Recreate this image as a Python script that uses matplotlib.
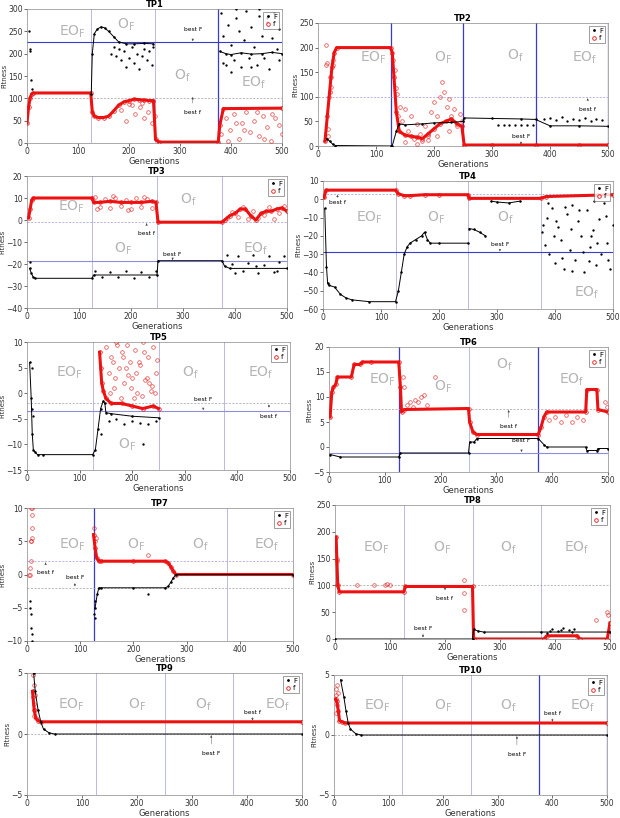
import matplotlib

matplotlib.use("Agg")
import matplotlib.pyplot as plt  # noqa: E402
from matplotlib.lines import Line2D  # noqa: E402

# ---- data (generation, fitness) ----
# TP1
tp1_F_x = [126, 128, 132, 138, 145, 152, 160, 170, 180, 195, 210, 230, 248]
tp1_F_y = [110, 200, 245, 255, 260, 258, 250, 238, 226, 222, 222, 223, 222]
tp1_F2_x = [378, 390, 400, 420, 440, 460, 480, 500]
tp1_F2_y = [205, 200, 198, 202, 199, 200, 203, 200]
tp1_Fc_x = [3, 5, 6, 8, 9, 165, 170, 175, 180, 185, 190, 195, 200, 205, 210, 215, 220, 225, 230,
            235, 240, 245, 248, 380, 385, 390, 395, 400, 405, 410, 415, 420, 425, 430, 435, 440,
            445, 450, 455, 460, 465, 470, 475, 480, 485, 490, 495, 385, 410, 440, 470, 495, 400, 455]
tp1_Fc_y = [250, 205, 210, 140, 120, 200, 215, 195, 210, 185, 205, 170, 190, 215, 180, 200, 165,
            195, 210, 185, 205, 175, 215, 290, 240, 175, 265, 220, 185, 280, 250, 170, 230, 295,
            190, 260, 215, 175, 285, 240, 190, 270, 165, 235, 290, 210, 255, 180, 300, 170, 280, 185, 160, 300]
tp1_f_x = [0, 3, 6, 9, 12, 125, 128, 132, 140, 150, 160, 170, 180, 190, 200, 210, 220, 230, 240,
           248, 252, 258, 375, 378, 385, 500]
tp1_f_y = [45, 80, 100, 110, 112, 112, 70, 60, 57, 57, 60, 72, 85, 92, 95, 98, 97, 96, 95, 95, 8,
           2, 2, 40, 77, 78]
tp1_fc_x = [185, 195, 205, 212, 222, 230, 238, 245, 250, 200, 225, 380, 390, 398, 405, 415, 422,
            430, 438, 446, 455, 462, 470, 478, 486, 494, 500, 395, 425, 450, 480, 410, 465]
tp1_fc_y = [75, 50, 85, 65, 80, 55, 70, 45, 60, 88, 90, 20, 55, 30, 65, 10, 45, 70, 25, 50, 15,
            60, 35, 5, 55, 40, 20, 5, 30, 70, 65, 45, 10]

# TP2
tp2_f_x = [12, 16, 20, 24, 28, 32, 125, 128, 131, 135, 140, 150, 160, 170, 180, 190, 200, 210,
           220, 230, 240, 248, 252, 300, 375, 450, 500]
tp2_f_y = [10, 60, 110, 160, 190, 200, 200, 190, 140, 70, 30, 22, 20, 18, 15, 25, 35, 45, 50, 55,
           45, 40, 2, 2, 2, 2, 2]
tp2_fc_x = [13, 14, 15, 17, 18, 19, 21, 22, 23, 25, 26, 130, 132, 134, 136, 138, 142, 145, 150,
            155, 160, 165, 170, 175, 180, 185, 190, 195, 200, 205, 210, 214, 218, 222, 226, 230,
            235, 240, 245, 248, 150, 170, 190, 205, 225]
tp2_fc_y = [165, 205, 168, 35, 20, 100, 140, 120, 140, 165, 175, 175, 155, 118, 105, 60, 80, 50,
            75, 30, 60, 15, 45, 25, 10, 40, 20, 70, 90, 60, 100, 130, 110, 80, 95, 60, 75, 40, 65,
            50, 8, 5, 12, 20, 30]
tp2_F_x = [15, 20, 25, 30, 125, 128, 135, 140, 150, 180, 200, 230, 250, 252, 300, 350, 375, 400,
           450, 500]
tp2_F_y = [15, 10, 4, 1, 0, 0, 30, 45, 43, 45, 47, 48, 50, 57, 56, 55, 54, 41, 41, 40]
tp2_Fc_x = [310, 320, 330, 340, 350, 360, 370, 390, 400, 410, 420, 430, 440, 450, 460, 470, 480,
            490]
tp2_Fc_y = [42, 42, 42, 42, 42, 42, 42, 55, 57, 52, 58, 50, 55, 53, 57, 50, 55, 52]

# TP3
tp3_f_x = [3, 6, 9, 12, 125, 128, 140, 160, 180, 200, 220, 240, 248, 252, 375, 380, 390, 400, 410,
           420, 430, 440, 450, 460, 470, 480, 490, 500]
tp3_f_y = [1, 5, 9, 10, 10, 8, 8, 8.5, 8, 8, 8, 8.5, 8, -1, -1, 0, 2, 3, 5, 5, 2, 0, 3, 4, 4, 5,
           5.5, 4]
tp3_fc_x = [130, 140, 150, 160, 170, 180, 190, 200, 210, 220, 230, 240, 135, 165, 195, 225, 385,
            395, 405, 415, 425, 435, 445, 455, 465, 475, 485, 495]
tp3_fc_y = [10.5, 6, 9.5, 5.5, 10, 6.5, 9, 5, 10, 6, 9.5, 5.5, 5, 11, 4.5, 10.5, 1, 3.5, 1.5, 6,
            0.5, 4, 1, 2.5, 6, 0.5, 3, 6.5]
tp3_F_x = [5, 8, 12, 15, 125, 128, 250, 252, 375, 380, 390, 500]
tp3_F_y = [-22, -24, -26, -26.5, -26.5, -25, -25, -18.5, -18.5, -21, -22, -22]
tp3_Fc_x = [6, 130, 145, 160, 175, 190, 205, 220, 235, 248, 385, 395, 405, 415, 425, 435, 445,
            455, 465, 475, 485, 495, 400, 440, 480]
tp3_Fc_y = [-19, -23, -26, -23.5, -26, -23, -26.2, -23.5, -25.8, -23, -16, -20, -16.5, -23,
            -19.5, -16, -24, -20.5, -16.5, -23.5, -19, -16.5, -24, -21, -23]

# TP4
tp4_f_x = [2, 5, 125, 130, 140, 150, 175, 200, 250, 252, 375, 385, 500]
tp4_f_y = [1, 5, 5, 3, 2, 2, 2.5, 2.5, 2.5, 0.5, 0.5, 1.5, 2.5]
tp4_F_x = [3, 6, 8, 10, 20, 30, 40, 50, 80, 125, 130, 135, 140, 145, 150, 160, 170, 175, 180,
           185, 200, 250]
tp4_F_y = [-5, -37, -46, -47, -48, -52, -54, -55, -56, -56, -50, -40, -30, -26, -24, -22, -20,
           -18, -22, -24, -24, -24]
tp4_F2_x = [252, 260, 270, 280]
tp4_F2_y = [-16, -16.5, -18, -20]
tp4_F3_x = [290, 300, 320, 340]
tp4_F3_y = [-1, -1.5, -2, -1]
tp4_Fc_x = [378, 382, 386, 390, 395, 400, 405, 410, 415, 420, 425, 430, 435, 440, 445, 450, 455,
            460, 465, 470, 475, 480, 485, 490, 495, 500, 388, 398, 412, 428, 442, 458, 472, 488,
            402, 418, 448, 468, 492, 380, 430, 462]
tp4_Fc_y = [-18, -25, -10, -30, -5, -35, -15, -22, -38, -8, -28, -3, -33, -12, -20, -40, -6,
            -26, -17, -36, -11, -30, -2, -24, -38, -14, -2, -20, -32, -16, -6, -34, -24, -9, -12,
            -4, -29, -1, -33, -14, -39, -20]

# TP5
tp5_F_x = [5, 8, 10, 12, 15, 20, 30, 125, 130, 135, 140, 145, 148, 150, 160, 200, 250]
tp5_F_y = [6, -1, -8, -11, -11.5, -12, -12, -12, -11, -7, -3, -1.5, -2, -3.8, -4, -4.5, -4.8]
tp5_Fc_x = [10, 9, 11, 140, 155, 170, 185, 200, 215, 230, 245, 220]
tp5_Fc_y = [5, -3, -4.5, -8, -5.5, -5, -6, -5.5, -5.8, -6, -5.5, -10]
tp5_f_x = [138, 140, 142, 145, 150, 160, 180, 200, 220, 240, 250]
tp5_f_y = [8, 5, 2, 0.5, -1, -2, -2, -2.5, -3, -2.5, -3]
tp5_fc_x = [150, 155, 160, 165, 170, 175, 180, 185, 190, 195, 200, 205, 210, 215, 220, 225, 230,
            235, 240, 245, 248, 158, 168, 178, 188, 198, 208, 218, 228, 238, 163, 183, 203, 223,
            243, 172, 192, 212, 232]
tp5_fc_y = [9, 4, 7, 1, 10, 5, 8, 2, 9.5, 6, 3, 8.5, 0, 5.5, 10, 2.5, 7, 0.5, 9, 4, 6.5, 0,
            3, -1, 5, 1, 4, -0.5, 3, 1.5, 6, 7, -1, 8, 0, 9.5, 3.5, 6, 2]

# TP6
tp6_f_x = [2, 5, 8, 12, 15, 40, 45, 55, 60, 75, 125, 128, 130, 135, 250, 252, 258, 265, 375, 380,
           385, 390, 460, 462, 480, 482, 500]
tp6_f_y = [6, 11, 12, 12.5, 14, 14, 16.5, 16.5, 17, 17, 17, 12, 7, 7.5, 7.7, 5, 3, 2.5, 2.5, 4, 6,
           7, 7, 11.5, 11.5, 7.5, 7]
tp6_fc_x = [132, 135, 140, 145, 150, 155, 160, 165, 170, 175, 190, 395, 405, 415, 425, 435, 445,
            455, 495, 498]
tp6_fc_y = [14, 12, 8.5, 9, 8, 9.5, 9, 10, 10.5, 8.5, 14, 5.5, 6, 5, 6.5, 5, 6, 5.5, 9, 8]
tp6_F_x = [2, 20, 125, 128, 250, 252, 260, 265, 375, 385, 390, 460, 462, 480, 482, 500]
tp6_F_y = [-1.5, -2, -2, -1.2, -1.2, 1, 1, 1.7, 1.7, 0.5, 0, 0, -0.7, -0.7, -0.3, -0.3]

# TP7
tp7_f_x = [125, 128, 131, 135, 140, 200, 260, 265, 270, 275, 280, 500]
tp7_f_y = [6, 4, 2.5, 2, 2, 2, 2, 1.8, 1.2, 0.5, 0, 0]
tp7_fc_x = [3, 5, 6, 7, 8, 9, 8, 9, 10, 7, 10, 126, 127, 129, 228]
tp7_fc_y = [0, 0, 1, 5, 5, 5.5, 10, 9, 7, 2, 10, 7, 5, 5.5, 3]
tp7_F_x = [128, 132, 135, 140, 200, 260, 265, 270, 275, 280, 500]
tp7_F_y = [-5, -3, -2, -2, -2, -2, -1.8, -1.2, -0.5, 0, 0]
tp7_Fc_x = [5, 6, 7, 8, 9, 10, 125, 127, 128, 228]
tp7_Fc_y = [-5, -4, -6, -8, -9, -10, -6, -4, -6.5, -3]

# TP8
tp8_f_x = [2, 5, 8, 125, 128, 250, 252, 380, 385, 440, 445, 495, 500]
tp8_f_y = [190, 100, 88, 88, 98, 98, 0, 0, 6, 6, 0, 0, 30]
tp8_fc_x = [3, 4, 3, 40, 70, 90, 95, 100, 235, 235, 235, 475, 495, 497]
tp8_fc_y = [150, 145, 100, 100, 100, 100, 102, 101, 110, 85, 55, 35, 50, 45]
tp8_F_x = [0, 250, 252, 260, 270, 375, 500]
tp8_F_y = [0, 0, 18, 15, 13, 13, 13]
tp8_Fc_x = [385, 395, 405, 415, 425, 435, 390, 410, 430]
tp8_Fc_y = [12, 18, 14, 20, 16, 19, 15, 17, 13]

# TP9
tp9_f_x = [10, 13, 16, 20, 25, 500]
tp9_f_y = [3.5, 2, 1.3, 1.1, 1, 1]
tp9_fc_x = [10, 11, 12, 13, 14, 12, 15]
tp9_fc_y = [4.8, 3, 2.5, 4, 3.2, 1.5, 2]
tp9_F_x = [12, 15, 20, 25, 30, 40, 50, 500]
tp9_F_y = [5, 3.5, 2, 1, 0.4, 0.1, 0, 0]

# TP10
tp10_f_x = [3, 5, 8, 10, 15, 20, 500]
tp10_f_y = [3, 2.8, 2, 1.2, 1.1, 1, 1]
tp10_fc_x = [3, 4, 5, 6, 4, 7]
tp10_fc_y = [3.8, 3.3, 4.2, 2.5, 1.8, 3.5]
tp10_F_x = [12, 18, 22, 26, 30, 40, 50, 500]
tp10_F_y = [4.6, 3.2, 2, 1, 0.5, 0.1, 0, 0]

region_names = [r"EO$_\mathrm{F}$", r"O$_\mathrm{F}$", r"O$_\mathrm{f}$", r"EO$_\mathrm{f}$"]
gen_ticks = [0, 100, 200, 300, 400, 500]

# ---- styling ----
BLUE = "#3a3acc"
LIGHT = "#b9b9e6"
GREY = "#b4b4b4"
RED = "#ee1111"

plt.rcParams["font.family"] = ["DejaVu Sans"]

# panel boxes in pixels: left, top, right, bottom
W, H = 620, 818
panels = [
    dict(name="TP1", box=(27, 9, 282, 143), ylim=(0, 300), step=50,
         v=[(125, LIGHT), (250, LIGHT), (375, BLUE)],
         h=[(225, "-"), (100, "--g")],
         F=[(tp1_F_x, tp1_F_y), (tp1_F2_x, tp1_F2_y)], Fc=(tp1_Fc_x, tp1_Fc_y),
         f=[(tp1_f_x, tp1_f_y)], fc=(tp1_fc_x, tp1_fc_y),
         labels=[(90, 250), (195, 265), (305, 150), (445, 135)],
         notes=[("best F", 325, 255, 228), ("best f", 325, 68, 103)]),
    dict(name="TP2", box=(318, 23, 608, 146), ylim=(0, 250), step=50,
         v=[(125, BLUE), (250, BLUE), (375, BLUE), (500, BLUE)],
         h=[(100, "--")],
         F=[(tp2_F_x, tp2_F_y)], Fc=(tp2_Fc_x, tp2_Fc_y),
         f=[(tp2_f_x, tp2_f_y)], fc=(tp2_fc_x, tp2_fc_y),
         labels=[(95, 180), (215, 180), (340, 183), (460, 180)],
         notes=[("best F", 350, 20, 3), ("best f", 465, 75, 97)]),
    dict(name="TP3", box=(27, 176, 287, 308), ylim=(-40, 20), step=10,
         v=[(125, LIGHT), (250, LIGHT), (375, LIGHT)],
         h=[(-18.5, "-l"), (-1, "--")],
         F=[(tp3_F_x, tp3_F_y)], Fc=(tp3_Fc_x, tp3_Fc_y),
         f=[(tp3_f_x, tp3_f_y)], fc=(tp3_fc_x, tp3_fc_y),
         labels=[(85, 6), (185, -13), (310, 9), (440, -13)],
         notes=[("best f", 230, -6, -1.5), ("best F", 280, -15.5, -18.2)]),
    dict(name="TP4", box=(323, 181, 613, 309), ylim=(-60, 10), step=10,
         v=[(125, LIGHT), (250, LIGHT), (375, LIGHT), (500, LIGHT)],
         h=[(-29, "-"), (3, "--")],
         F=[(tp4_F_x, tp4_F_y), (tp4_F2_x, tp4_F2_y), (tp4_F3_x, tp4_F3_y)],
         Fc=(tp4_Fc_x, tp4_Fc_y), f=[(tp4_f_x, tp4_f_y)], fc=([], []),
         labels=[(80, -10), (195, -10), (315, -10), (455, -51)],
         notes=[("best f", 25, -2, 2.5), ("best F", 305, -25, -28.5)]),
    dict(name="TP5", box=(27, 342, 290, 470), ylim=(-15, 10), step=5,
         v=[(125, LIGHT), (250, LIGHT), (375, LIGHT), (500, LIGHT)],
         h=[(-3.5, "-l"), (-2, "--g")],
         F=[(tp5_F_x, tp5_F_y)], Fc=(tp5_Fc_x, tp5_Fc_y),
         f=[(tp5_f_x, tp5_f_y)], fc=(tp5_fc_x, tp5_fc_y),
         labels=[(80, 4), (190, -10), (310, 4), (445, 4)],
         notes=[("best F", 335, -1.3, -3.3), ("best f", 460, -4.6, -2.2)]),
    dict(name="TP6", box=(329, 347, 608, 472), ylim=(-5, 20), step=5,
         v=[(125, BLUE), (250, LIGHT), (375, BLUE)],
         h=[(-1.2, "-l"), (7.7, "--g")],
         F=[(tp6_F_x, tp6_F_y)], Fc=([], []),
         f=[(tp6_f_x, tp6_f_y)], fc=(tp6_fc_x, tp6_fc_y),
         labels=[(95, 13.5), (205, 12), (315, 16.5), (435, 13.5)],
         notes=[("best f", 322, 4, 7.4), ("best F", 345, 1.2, -1.0)]),
    dict(name="TP7", box=(27, 508, 293, 641), ylim=(-10, 10), step=5,
         v=[(125, BLUE), (375, LIGHT)],
         h=[(2, "--"), (-2, "--g")],
         F=[(tp7_F_x, tp7_F_y)], Fc=(tp7_Fc_x, tp7_Fc_y),
         f=[(tp7_f_x, tp7_f_y)], fc=(tp7_fc_x, tp7_fc_y),
         labels=[(85, 4.5), (205, 4.5), (325, 4.5), (450, 4.5)],
         notes=[("best f", 35, 0.3, 1.8), ("best F", 90, -0.5, -1.8)]),
    dict(name="TP8", box=(335, 505, 610, 639), ylim=(0, 250), step=50,
         v=[(125, LIGHT), (250, LIGHT), (375, LIGHT), (500, LIGHT)],
         h=[(100, "--g")],
         F=[(tp8_F_x, tp8_F_y)], Fc=(tp8_Fc_x, tp8_Fc_y),
         f=[(tp8_f_x, tp8_f_y)], fc=(tp8_fc_x, tp8_fc_y),
         labels=[(75, 170), (195, 170), (315, 170), (440, 170)],
         notes=[("best f", 200, 75, 97), ("best F", 160, 20, 3)]),
    dict(name="TP9", box=(27, 673, 302, 795), ylim=(-5, 5), step=5,
         v=[(125, LIGHT), (250, LIGHT), (375, LIGHT), (500, LIGHT)],
         h=[(0, "--g")],
         F=[(tp9_F_x, tp9_F_y)], Fc=([], []),
         f=[(tp9_f_x, tp9_f_y)], fc=(tp9_fc_x, tp9_fc_y),
         labels=[(80, 2.4), (200, 2.4), (320, 2.4), (455, 2.4)],
         notes=[("best F", 335, -1.6, -0.1), ("best f", 410, 1.8, 1.1)]),
    dict(name="TP10", box=(334, 675, 607, 795), ylim=(-5, 5), step=5,
         v=[(125, LIGHT), (250, LIGHT), (375, BLUE), (500, BLUE)],
         h=[(0, "--g")],
         F=[(tp10_F_x, tp10_F_y)], Fc=([], []),
         f=[(tp10_f_x, tp10_f_y)], fc=(tp10_fc_x, tp10_fc_y),
         labels=[(80, 2.4), (200, 2.4), (320, 2.4), (455, 2.4)],
         notes=[("best F", 335, -1.6, -0.1), ("best f", 400, 1.8, 1.1)]),
]

fig = plt.figure(figsize=(W / 100, H / 100), dpi=100)

for p in panels:
    l, t, r, b = p["box"]
    ax = fig.add_axes([l / W, 1 - b / H, (r - l) / W, (b - t) / H])
    y0, y1 = p["ylim"]

    for xv, col in p["v"]:
        ax.axvline(xv, color=col, lw=0.9 if col == BLUE else 0.7, zorder=1)
    for yv, st in p["h"]:
        if st.startswith("-") and not st.startswith("--"):
            ax.axhline(yv, color=BLUE if st == "-" else "#8c8ce0", lw=0.8, zorder=1)
        else:
            ax.axhline(yv, color="#9a9ade" if st == "--" else "#a0a0a0", lw=0.5,
                       ls=(0, (3, 2)), zorder=1)

    for xs, ys in p["f"]:
        ax.plot(xs, ys, color=RED, lw=2.2, zorder=3)
        ax.plot(xs, ys, ls="none", marker="o", ms=2.6, mfc="none", mec=RED, mew=0.5, zorder=3)
    fx, fy = p["fc"]
    ax.plot(fx, fy, ls="none", marker="o", ms=2.6, mfc="none", mec=RED, mew=0.5, alpha=0.8,
            zorder=3)
    for xs, ys in p["F"]:
        ax.plot(xs, ys, color="black", lw=0.7, zorder=4)
        ax.plot(xs, ys, ls="none", marker=".", ms=1.6, color="black", zorder=4)
    cx, cy = p["Fc"]
    ax.plot(cx, cy, ls="none", marker=".", ms=1.4, color="black", zorder=4)

    for name, (lx, ly) in zip(region_names, p["labels"]):
        ax.text(lx, ly, name, color=GREY, fontsize=10, ha="center", va="center", zorder=2)
    for txt, tx, ty, ay in p["notes"]:
        ax.annotate(txt, xy=(tx, ay), xytext=(tx, ty), fontsize=4.3, ha="center",
                    va="center", arrowprops=dict(arrowstyle="-|>", lw=0.3, color="#444444",
                                                 mutation_scale=3, shrinkA=3, shrinkB=0),
                    zorder=5)

    ax.set_xlim(0, 500)
    ax.set_ylim(y0, y1)
    ax.set_xticks(gen_ticks)
    yt = list(range(y0, y1 + 1, p["step"]))
    ax.set_yticks(yt)
    ax.tick_params(labelsize=5.5, length=2, width=0.5, colors="#333333", pad=1.2)
    for s in ax.spines.values():
        s.set_linewidth(0.5)
        s.set_color("#888888")
    ax.set_title(p["name"], fontsize=6, fontweight="bold", pad=1.5)
    ax.set_xlabel("Generations", fontsize=6, color="#333333", labelpad=0.5)
    ax.set_ylabel("Fitness", fontsize=5, color="#333333", labelpad=0.5)

    handles = [
        Line2D([], [], ls="none", marker=".", ms=2, color="black", label="F"),
        Line2D([], [], ls="none", marker="o", ms=2.6, mfc="none", mec=RED, mew=0.6, label="f"),
    ]
    leg = ax.legend(handles=handles, loc="upper right", fontsize=5, handlelength=0.8,
                    handletextpad=0.4, borderpad=0.3, labelspacing=0.2, borderaxespad=0.4,
                    frameon=True, fancybox=False, edgecolor="#555555")
    leg.get_frame().set_linewidth(0.5)

fig.savefig("out.png", dpi=100)
